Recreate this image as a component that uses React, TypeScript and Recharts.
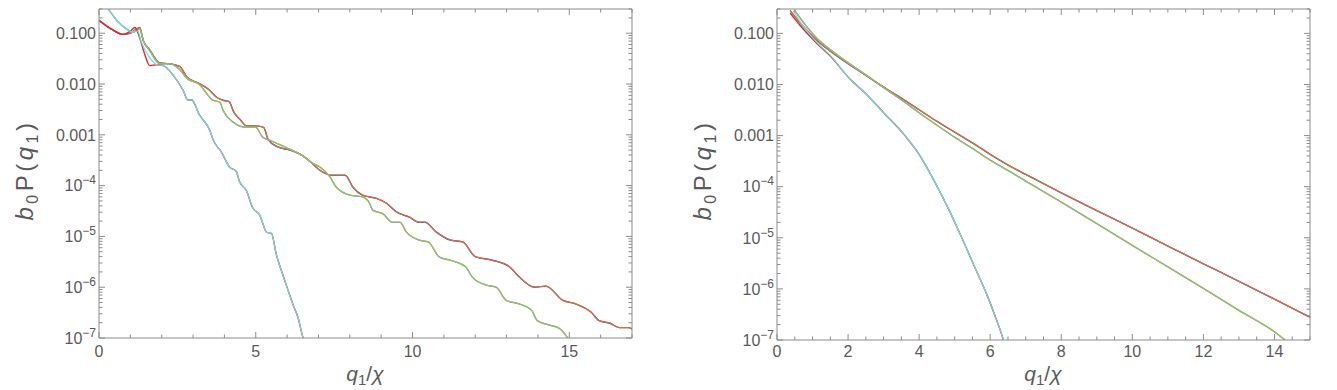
import { LineChart, Line, XAxis, YAxis, Label } from "recharts";

// ---------- left panel ----------
const leftOrangeX = [0, 0.4, 0.77, 1.0, 1.15, 1.3, 1.41, 1.62, 1.94, 2.26, 2.58, 2.8, 3.2, 3.5, 3.75, 3.95, 4.15, 4.3, 4.5, 4.7, 5.0, 5.25, 5.4, 5.7, 6.1, 6.4, 6.6, 7.05, 7.4, 7.85, 8.1, 8.4, 8.85, 9.17, 9.5, 9.9, 10.2, 10.4, 10.75, 11.2, 11.6, 12.0, 12.55, 13.1, 13.4, 13.9, 14.25, 14.8, 15.2, 15.7, 15.95, 16.3, 16.6, 16.9, 17];
const leftOrangeY = [0.18, 0.12, 0.095, 0.1, 0.115, 0.13, 0.072, 0.047, 0.026, 0.025, 0.022, 0.0138, 0.0102, 0.0078, 0.0055, 0.0048, 0.0045, 0.0028, 0.002, 0.0015, 0.0015, 0.0014, 0.0008, 0.00058, 0.0005, 0.00042, 0.00035, 2.0e-4, 1.6e-4, 1.6e-4, 9.3e-5, 6.5e-5, 5.6e-5, 4.5e-5, 3.0e-5, 2.4e-5, 1.9e-5, 1.9e-5, 1.23e-5, 8.5e-6, 7.8e-6, 4.0e-6, 3.4e-6, 2.5e-6, 1.6e-6, 1.0e-6, 1.05e-6, 5.5e-7, 4.7e-7, 3.2e-7, 2.2e-7, 1.95e-7, 1.6e-7, 1.6e-7, 1.5e-7];

const leftGreenX = [0, 0.3, 0.6, 0.85, 1.08, 1.3, 1.42, 1.62, 1.94, 2.26, 2.58, 2.8, 3.2, 3.63, 3.85, 3.96, 4.27, 4.7, 5.0, 5.22, 5.45, 6.0, 6.4, 6.8, 7.1, 7.36, 7.57, 8.0, 8.4, 8.63, 8.73, 9.05, 9.36, 9.6, 9.8, 10.2, 10.5, 10.86, 11.2, 11.7, 11.9, 12.35, 12.67, 12.99, 13.4, 13.8, 13.98, 14.36, 14.68, 14.95, 15.05];
const leftGreenY = [0.6, 0.3, 0.17, 0.125, 0.105, 0.12, 0.07, 0.045, 0.025, 0.025, 0.019, 0.013, 0.0098, 0.0048, 0.0044, 0.003, 0.0018, 0.0014, 0.0014, 0.0009, 0.00078, 5.5e-4, 4.2e-4, 2.8e-4, 2.2e-4, 1.5e-4, 9.3e-5, 6.5e-5, 6.0e-5, 4.5e-5, 3.3e-5, 2.8e-5, 1.9e-5, 1.9e-5, 1.23e-5, 8.5e-6, 7.8e-6, 3.9e-6, 3.4e-6, 2.5e-6, 1.6e-6, 1.1e-6, 1.0e-6, 5.5e-7, 4.7e-7, 3.5e-7, 2.2e-7, 1.8e-7, 1.55e-7, 1.0e-7, 8e-8];

const leftRedX = [0, 0.4, 0.77, 1.0, 1.15, 1.3, 1.45, 1.62, 1.85, 2.05, 2.37, 2.68, 2.84, 2.95, 3.2, 3.54, 3.64, 3.9, 4.17, 4.38, 4.48, 4.7, 4.9, 5.13, 5.35, 5.5, 5.66, 5.82, 6.03, 6.19, 6.35, 6.5, 6.6];
const leftRedY = [0.18, 0.12, 0.095, 0.11, 0.13, 0.08, 0.04, 0.023, 0.024, 0.023, 0.0148, 0.0076, 0.0048, 0.0049, 0.0025, 0.0012, 8e-4, 4.6e-4, 2.3e-4, 1.9e-4, 1.2e-4, 8e-5, 3.7e-5, 2.6e-5, 1.2e-5, 1.15e-5, 4.3e-6, 2.1e-6, 8.7e-7, 4.5e-7, 2.5e-7, 1.05e-7, 7e-8];

const leftCyanX = [0, 0.3, 0.6, 0.85, 1.08, 1.24, 1.34, 1.56, 1.85, 2.05, 2.37, 2.68, 2.84, 2.95, 3.2, 3.54, 3.64, 3.9, 4.17, 4.38, 4.48, 4.7, 4.9, 5.13, 5.35, 5.5, 5.66, 5.82, 6.03, 6.19, 6.35, 6.5, 6.6];
const leftCyanY = [0.6, 0.3, 0.17, 0.125, 0.105, 0.11, 0.07, 0.037, 0.024, 0.023, 0.0148, 0.0076, 0.0048, 0.0049, 0.0025, 0.0012, 8e-4, 4.6e-4, 2.3e-4, 1.9e-4, 1.2e-4, 8e-5, 3.7e-5, 2.6e-5, 1.2e-5, 1.15e-5, 4.3e-6, 2.1e-6, 8.7e-7, 4.5e-7, 2.5e-7, 1.05e-7, 7e-8];

// ---------- right panel ----------
const rightOrangeX = [0.37, 0.65, 1.13, 1.5, 2.06, 2.5, 3.0, 3.5, 4.0, 4.5, 5.0, 5.5, 6.0, 6.57, 7.0, 8.0, 9.0, 10.0, 11.0, 12.0, 13.0, 14.0, 15.0];
const rightOrangeY = [0.28, 0.16, 0.072, 0.045, 0.024, 0.0151, 0.0089, 0.0054, 0.0032, 0.0019, 0.00117, 7.2e-4, 4.3e-4, 2.5e-4, 1.74e-4, 7.6e-5, 3.4e-5, 1.55e-5, 6.9e-6, 3.1e-6, 1.41e-6, 6.3e-7, 2.8e-7];

const rightGreenX = [0.5, 0.65, 1.13, 1.5, 2.06, 2.5, 3.0, 3.5, 4.0, 4.5, 5.0, 5.5, 6.0, 6.57, 7.0, 8.0, 9.0, 10.0, 11.0, 12.0, 13.0, 14.0, 14.3, 14.5];
const rightGreenY = [0.28, 0.2, 0.079, 0.048, 0.025, 0.0155, 0.0087, 0.005, 0.0028, 0.0016, 9.3e-4, 5.6e-4, 3.3e-4, 1.95e-4, 1.29e-4, 5.0e-5, 1.9e-5, 7.1e-6, 2.7e-6, 1.02e-6, 3.8e-7, 1.45e-7, 1.0e-7, 8e-8];

const rightRedX = [0.37, 0.7, 1.13, 1.5, 2.06, 2.5, 3.0, 3.6, 4.0, 4.45, 4.85, 5.2, 5.55, 5.9, 6.15, 6.37, 6.45];
const rightRedY = [0.25, 0.13, 0.063, 0.036, 0.0126, 0.0066, 0.0028, 1.0e-3, 4.3e-4, 1.2e-4, 3.4e-5, 1.0e-5, 2.8e-6, 7.9e-7, 2.8e-7, 1.0e-7, 6e-8];

const rightCyanX = [0.45, 0.7, 1.13, 1.5, 2.06, 2.5, 3.0, 3.6, 4.0, 4.45, 4.85, 5.2, 5.55, 5.9, 6.15, 6.37, 6.45];
const rightCyanY = [0.28, 0.15, 0.066, 0.037, 0.0126, 0.0066, 0.0028, 1.0e-3, 4.3e-4, 1.2e-4, 3.4e-5, 1.0e-5, 2.8e-6, 7.9e-7, 2.8e-7, 1.0e-7, 6e-8];

// ---------- ticks ----------
const DECADES = [1e-7, 1e-6, 1e-5, 1e-4, 1e-3, 1e-2, 1e-1];
const MINOR_STEPS = [1, 2, 3, 4, 5, 6, 7, 8, 9];
const Y_TOP = 0.3;
const yTicks = DECADES.flatMap((d) => MINOR_STEPS.map((m) => d * m)).filter((v) => v <= Y_TOP * 1.0001);

const LEFT_X_MAX = 17;
const LEFT_X_MAJOR = [0, 5, 10, 15];
const leftXTicks = Array.from({ length: 18 }, (_, i) => i);

const RIGHT_X_MAX = 15;
const RIGHT_X_MAJOR = [0, 2, 4, 6, 8, 10, 12, 14];
const rightXTicks = Array.from({ length: 31 }, (_, i) => i * 0.5);

const COLORS = {
  red: "#dc2a2a",
  blue: "#4646d2",
  purple: "#b46ee6",
  green: "#88d044",
  orange: "#dc7226",
  cyan: "#62e4e4",
};

const FRAME = "#8c8c8c";
const TEXT = "#5a5a5a";
const FONT = "'Liberation Sans', Arial, sans-serif";

const pts = (xs: number[], ys: number[]) => xs.map((x, i) => ({ x, y: ys[i] }));

const isDecade = (v: number) => Math.abs(Math.log10(v) - Math.round(Math.log10(v))) < 1e-6;

function YTickLeft(props: any) {
  const { x, y, payload } = props;
  const v = payload.value;
  const major = isDecade(v);
  const e = Math.round(Math.log10(v));
  return (
    <g>
      <line x1={x} x2={x + (major ? 6 : 3.5)} y1={y} y2={y} stroke={FRAME} strokeWidth={1} />
      {major &&
        (e >= -3 ? (
          <text x={x - 3} y={y} dy="0.36em" textAnchor="end" fontSize={16} fill={TEXT} fontFamily={FONT}>
            {v.toFixed(3)}
          </text>
        ) : (
          <text x={x - 3} y={y} dy="0.36em" textAnchor="end" fontSize={16} fill={TEXT} fontFamily={FONT}>
            10
            <tspan fontSize={12} dy={-7}>
              {"\u2212" + -e}
            </tspan>
          </text>
        ))}
    </g>
  );
}

function YTickRight(props: any) {
  const { x, y, payload } = props;
  const major = isDecade(payload.value);
  return <line x1={x} x2={x - (major ? 6 : 3.5)} y1={y} y2={y} stroke={FRAME} strokeWidth={1} />;
}

function makeXTickBottom(majors: number[], labelDy: number) {
  return function XTickBottom(props: any) {
    const { x, y, payload } = props;
    const major = majors.some((m) => Math.abs(m - payload.value) < 1e-9);
    return (
      <g>
        <line x1={x} x2={x} y1={y} y2={y - (major ? 6 : 3.5)} stroke={FRAME} strokeWidth={1} />
        {major && (
          <text x={x} y={y + labelDy} textAnchor="middle" fontSize={16} fill={TEXT} fontFamily={FONT}>
            {payload.value}
          </text>
        )}
      </g>
    );
  };
}

function makeXTickTop(majors: number[]) {
  return function XTickTop(props: any) {
    const { x, y, payload } = props;
    const major = majors.some((m) => Math.abs(m - payload.value) < 1e-9);
    return <line x1={x} x2={x} y1={y} y2={y + (major ? 6 : 3.5)} stroke={FRAME} strokeWidth={1} />;
  };
}

function yTitle(cx: number, cy: number) {
  return () => (
    <text
      transform={`translate(${cx},${cy}) rotate(-90)`}
      textAnchor="middle"
      fontSize={24}
      fill={TEXT}
      fontFamily={FONT}
      letterSpacing={3.5}
    >
      <tspan fontStyle="italic">b</tspan>
      <tspan fontSize={16} dy={5}>0</tspan>
      <tspan dy={-5}>P(</tspan>
      <tspan fontStyle="italic">q</tspan>
      <tspan fontSize={16} dy={5}>1</tspan>
      <tspan dy={-5}>)</tspan>
    </text>
  );
}

function xTitle(cx: number, cy: number) {
  return () => (
    <text x={cx} y={cy} textAnchor="middle" fontSize={21} fill={TEXT} fontFamily={FONT}>
      <tspan fontStyle="italic">q</tspan>
      <tspan fontSize={15} dy={4}>1</tspan>
      <tspan dy={-4}>/</tspan>
      <tspan fontStyle="italic">χ</tspan>
    </text>
  );
}

type Series = { key: string; color: string; width: number; data: { x: number; y: number }[] };

function Panel(props: {
  left: number;
  width: number;
  margin: { top: number; right: number; bottom: number; left: number };
  xMax: number;
  xTicks: number[];
  xMajor: number[];
  labelDy: number;
  series: Series[];
  yTitlePos: [number, number];
  xTitlePos: [number, number];
}) {
  const { left, width, margin, xMax, xTicks, xMajor, labelDy, series, yTitlePos, xTitlePos } = props;
  // axes are 1px thick (0 would not render), so the margins are shrunk by 1
  const m = { top: margin.top - 1, right: margin.right - 1, bottom: margin.bottom - 1, left: margin.left - 1 };
  return (
    <div style={{ position: "absolute", left, top: 0 }}>
      <LineChart width={width} height={390} margin={m}>
        <XAxis
          xAxisId="b"
          type="number"
          dataKey="x"
          domain={[0, xMax]}
          ticks={xTicks}
          interval={0}
          height={1}
          tickSize={0}
          tickMargin={0}
          tickLine={false}
          tick={makeXTickBottom(xMajor, labelDy)}
          axisLine={{ stroke: FRAME }}
          allowDataOverflow
        >
          <Label content={xTitle(xTitlePos[0], xTitlePos[1])} />
        </XAxis>
        <XAxis
          xAxisId="t"
          orientation="top"
          type="number"
          dataKey="x"
          domain={[0, xMax]}
          ticks={xTicks}
          interval={0}
          height={1}
          tickSize={0}
          tickMargin={0}
          tickLine={false}
          tick={makeXTickTop(xMajor)}
          axisLine={{ stroke: FRAME }}
          allowDataOverflow
        />
        <YAxis
          yAxisId="l"
          type="number"
          scale="log"
          domain={[1e-7, Y_TOP]}
          ticks={yTicks}
          interval={0}
          width={1}
          tickSize={0}
          tickMargin={0}
          tickLine={false}
          tick={YTickLeft}
          axisLine={{ stroke: FRAME }}
          allowDataOverflow
        >
          <Label content={yTitle(yTitlePos[0], yTitlePos[1])} />
        </YAxis>
        <YAxis
          yAxisId="r"
          orientation="right"
          type="number"
          scale="log"
          domain={[1e-7, Y_TOP]}
          ticks={yTicks}
          interval={0}
          width={1}
          tickSize={0}
          tickMargin={0}
          tickLine={false}
          tick={YTickRight}
          axisLine={{ stroke: FRAME }}
          allowDataOverflow
        />
        {series.map((s) => (
          <Line
            key={s.key}
            xAxisId="b"
            yAxisId="l"
            data={s.data}
            dataKey="y"
            type="monotone"
            stroke={s.color}
            strokeWidth={s.width}
            dot={false}
            activeDot={false}
            isAnimationActive={false}
          />
        ))}
      </LineChart>
    </div>
  );
}

const leftSeries: Series[] = [
  { key: "blue", color: COLORS.blue, width: 1.4, data: pts(leftOrangeX, leftOrangeY) },
  { key: "orange", color: COLORS.orange, width: 1.2, data: pts(leftOrangeX, leftOrangeY) },
  { key: "purple", color: COLORS.purple, width: 1.4, data: pts(leftGreenX, leftGreenY) },
  { key: "green", color: COLORS.green, width: 1.2, data: pts(leftGreenX, leftGreenY) },
  { key: "red", color: COLORS.red, width: 1.4, data: pts(leftRedX, leftRedY) },
  { key: "cyan", color: COLORS.cyan, width: 1.2, data: pts(leftCyanX, leftCyanY) },
];

const rightSeries: Series[] = [
  { key: "blue", color: COLORS.blue, width: 1.4, data: pts(rightOrangeX, rightOrangeY) },
  { key: "orange", color: COLORS.orange, width: 1.2, data: pts(rightOrangeX, rightOrangeY) },
  { key: "purple", color: COLORS.purple, width: 1.4, data: pts(rightGreenX, rightGreenY) },
  { key: "green", color: COLORS.green, width: 1.2, data: pts(rightGreenX, rightGreenY) },
  { key: "red", color: COLORS.red, width: 1.4, data: pts(rightRedX, rightRedY) },
  { key: "cyan", color: COLORS.cyan, width: 1.2, data: pts(rightCyanX, rightCyanY) },
];

export default function App() {
  return (
    <div style={{ position: "absolute", left: 0, top: 0, width: 1337, height: 390, background: "#fff" }}>
      <Panel
        left={0}
        width={680}
        margin={{ top: 9, left: 99, right: 48, bottom: 52 }}
        xMax={LEFT_X_MAX}
        xTicks={leftXTicks}
        xMajor={LEFT_X_MAJOR}
        labelDy={19}
        series={leftSeries}
        yTitlePos={[33, 170]}
        xTitlePos={[365, 381]}
      />
      <Panel
        left={680}
        width={657}
        margin={{ top: 9, left: 97, right: 27, bottom: 50 }}
        xMax={RIGHT_X_MAX}
        xTicks={rightXTicks}
        xMajor={RIGHT_X_MAJOR}
        labelDy={17}
        series={rightSeries}
        yTitlePos={[31, 170]}
        xTitlePos={[363, 381]}
      />
    </div>
  );
}
